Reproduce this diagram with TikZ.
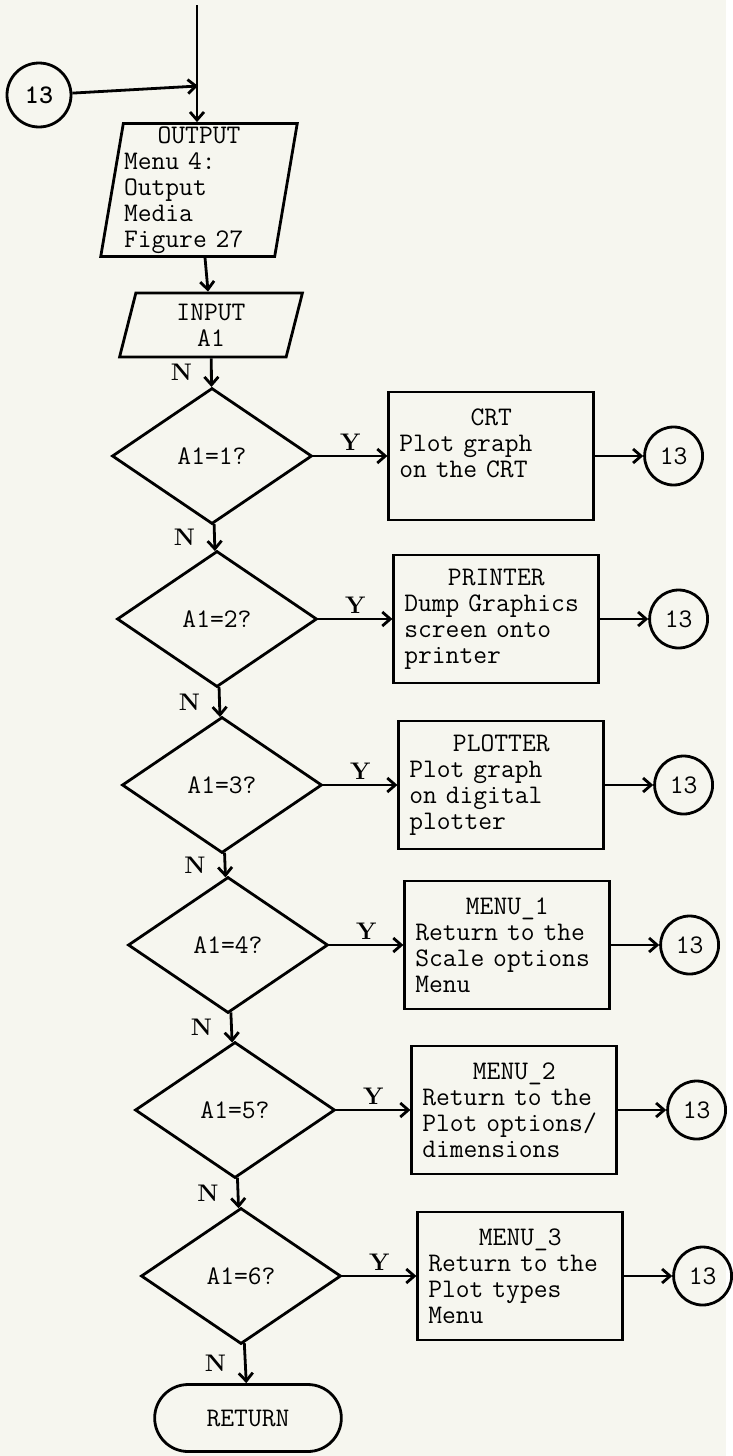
\documentclass[tikz,border=0pt]{standalone}
\usepackage{tikz}
\usetikzlibrary{shapes.geometric, shapes.misc, arrows.meta, positioning}

\definecolor{paper}{RGB}{246,246,239}
\tikzset{
  flowtext/.style={font=\ttfamily\fontsize{13.4}{13}\selectfont},
  iobox/.style={draw, trapezium, trapezium left angle=80, trapezium right angle=100,
    trapezium stretches=true, inner sep=0pt, flowtext},
  decision/.style={draw, diamond, minimum width=100pt, minimum height=68pt, inner sep=0pt, flowtext},
  action/.style={draw, rectangle, minimum width=102.5pt, minimum height=64pt, text width=92pt,
    inner xsep=5.25pt, align=left, flowtext},
  offpage/.style={draw, circle, minimum size=29pt, inner sep=0pt, flowtext},
  terminal/.style={draw, rounded rectangle, minimum width=100pt, minimum height=33.5pt, flowtext},
  yn/.style={font=\rmfamily\bfseries\fontsize{12}{12}\selectfont, inner sep=2pt}
}
\newcommand{\boxhead}[1]{\makebox[\linewidth]{#1}\\}

\begin{document}
\begin{tikzpicture}[x=0.5pt, y=-0.5pt, line width=1.4pt, >={Straight Barb[length=4pt,width=7pt]}]
    \fill[paper] (0,0) rectangle (726,1456);
    % entry
    \coordinate (top) at (197,5);
    \coordinate (join) at (198,86);
    \node[offpage, minimum size=32pt, font=\ttfamily\bfseries\fontsize{13.4}{13}\selectfont] (c0) at (39,95) {13};
    \node[iobox, minimum width=99pt, minimum height=66.5pt, text width=75pt, align=left] (out) at (199,190)
        {\boxhead{OUTPUT}Menu 4:\\Output\\Media\\Figure 27};
    \node[iobox, minimum width=91.5pt, minimum height=32pt, align=center] (in) at (211,325) {INPUT\\A1};
    % decisions
    \node[decision] (d1) at (212,456) {A1=1?};
    \node[decision] (d2) at (217,619) {A1=2?};
    \node[decision] (d3) at (222,785) {A1=3?};
    \node[decision] (d4) at (228,945) {A1=4?};
    \node[decision] (d5) at (235,1110) {A1=5?};
    \node[decision] (d6) at (241,1276) {A1=6?};
    \node[terminal] (ret) at (248,1418) {RETURN};
    % output media
    \node[action, right=37pt of d1] (crt) {\boxhead{CRT}Plot graph\\on the CRT\\\mbox{}};
    \node[action, right=37pt of d2] (prn) {\boxhead{PRINTER}Dump Graphics\\screen onto\\printer};
    \node[action, right=37pt of d3] (plt) {\boxhead{PLOTTER}Plot graph\\on digital\\plotter};
    \node[action, right=37pt of d4] (m1) {\boxhead{MENU\_1}Return to the\\Scale options\\Menu};
    \node[action, right=37pt of d5] (m2) {\boxhead{MENU\_2}Return to the\\Plot options/\\dimensions};
    \node[action, right=37pt of d6] (m3) {\boxhead{MENU\_3}Return to the\\Plot types\\Menu};
    \node[offpage, right=24pt of crt] (r1) {13};
    \node[offpage, right=24pt of prn] (r2) {13};
    \node[offpage, right=24pt of plt] (r3) {13};
    \node[offpage, right=24pt of m1] (r4) {13};
    \node[offpage, right=24pt of m2] (r5) {13};
    \node[offpage, right=24pt of m3] (r6) {13};
    % main flow
    \draw[->] (top) -- (top |- out.north);
    \draw[->] (c0) -- (join);
    \draw[->] (out) -- (in);
    \draw[->] (in) -- node[yn, left=7pt] {N} (d1);
    \draw[->] (d1) -- node[yn, left=7pt] {N} (d2);
    \draw[->] (d2) -- node[yn, left=7pt] {N} (d3);
    \draw[->] (d3) -- node[yn, left=7pt] {N} (d4);
    \draw[->] (d4) -- node[yn, left=7pt] {N} (d5);
    \draw[->] (d5) -- node[yn, left=7pt] {N} (d6);
    \draw[->] (d6) -- node[yn, left=7pt] {N} (ret);
    % yes branches
    \draw[->] (d1) -- node[yn, above] {Y} (crt);
    \draw[->] (d2) -- node[yn, above] {Y} (prn);
    \draw[->] (d3) -- node[yn, above] {Y} (plt);
    \draw[->] (d4) -- node[yn, above] {Y} (m1);
    \draw[->] (d5) -- node[yn, above] {Y} (m2);
    \draw[->] (d6) -- node[yn, above] {Y} (m3);
    \draw[->] (crt) -- (r1);
    \draw[->] (prn) -- (r2);
    \draw[->] (plt) -- (r3);
    \draw[->] (m1) -- (r4);
    \draw[->] (m2) -- (r5);
    \draw[->] (m3) -- (r6);
\end{tikzpicture}
\end{document}
